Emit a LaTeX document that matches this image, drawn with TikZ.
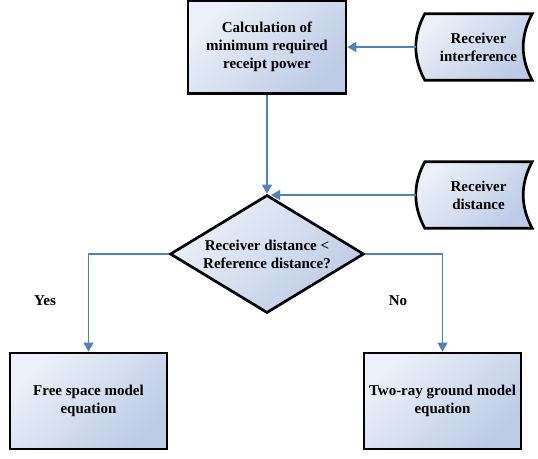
\documentclass[tikz,border=0pt]{standalone}
\usepackage{fontspec}
\setmainfont{Liberation Serif}
\newfontfamily\tnrfont{Liberation Serif}
\usetikzlibrary{shapes.geometric,arrows.meta,backgrounds}
\definecolor{fillA}{RGB}{236,241,249}
\definecolor{fillB}{RGB}{188,203,230}
\definecolor{arrowblue}{RGB}{79,129,189}
\begin{document}
\begin{tikzpicture}[x=1pt,y=-1pt,
  txt/.style={align=center, font=\tnrfont\fontsize{15}{18}\selectfont\bfseries, text=black},
  shadefill/.style={top color=fillA, bottom color=fillB, shading angle=45},
  box/.style={txt, rectangle, draw=black, line width=2.7pt, shadefill, inner sep=2pt},
  decision/.style={txt, diamond, draw=black, line width=2.7pt, shadefill, inner sep=0pt, aspect=1.64, minimum width=194pt, minimum height=118pt},
  sdata/.style={txt, rectangle, draw=none, inner sep=0pt, minimum width=107pt, minimum height=66pt},
  sdshape/.style={draw=black, line width=2.7pt, shadefill},
  conn/.style={draw=arrowblue, line width=1.3pt, -{Triangle[length=9pt,width=10pt]}},
  lbl/.style={font=\tnrfont\fontsize{15}{18}\selectfont\bfseries, text=black}
]
\useasboundingbox (0,0) rectangle (538,458);

\node[box, minimum width=158pt, minimum height=93pt] (calc) at (267,47) {Calculation of\\minimum required\\receipt power};
\node[sdata] (intf) at (478.5,47) {Receiver\\interference};
\node[sdata] (dist) at (478.5,195) {Receiver\\distance};
\node[decision] (dia) at (267,254) {Receiver distance <\\Reference distance?};
\node[box, minimum width=157pt, minimum height=96pt] (free) at (88.5,401) {Free space model\\equation};
\node[box, minimum width=157pt, minimum height=96pt] (two) at (442.5,401) {Two-ray ground model\\equation};
\node[lbl] (yes) at (45,301) {Yes};
\node[lbl] (no) at (398,301) {No};

\begin{scope}[on background layer]
  \path[sdshape] (intf.north west) -- (intf.north east)
     .. controls +(-12,22) and +(-12,-22) .. (intf.south east)
     -- (intf.south west)
     .. controls +(-12,-22) and +(-12,22) .. (intf.north west) -- cycle;
  \path[sdshape] (dist.north west) -- (dist.north east)
     .. controls +(-12,22) and +(-12,-22) .. (dist.south east)
     -- (dist.south west)
     .. controls +(-12,-22) and +(-12,22) .. (dist.north west) -- cycle;
\end{scope}

\draw[conn] ([xshift=-9pt]intf.west) -- (calc.east |- intf.west);
\draw[conn] (calc.south) -- (dia.north);
\draw[conn] ([xshift=-9pt]dist.west) -- ([xshift=4pt]dia.north |- dist.west);
\draw[conn] (dia.west) -| (free.north);
\draw[conn] (dia.east) -| (two.north);
\end{tikzpicture}
\end{document}
